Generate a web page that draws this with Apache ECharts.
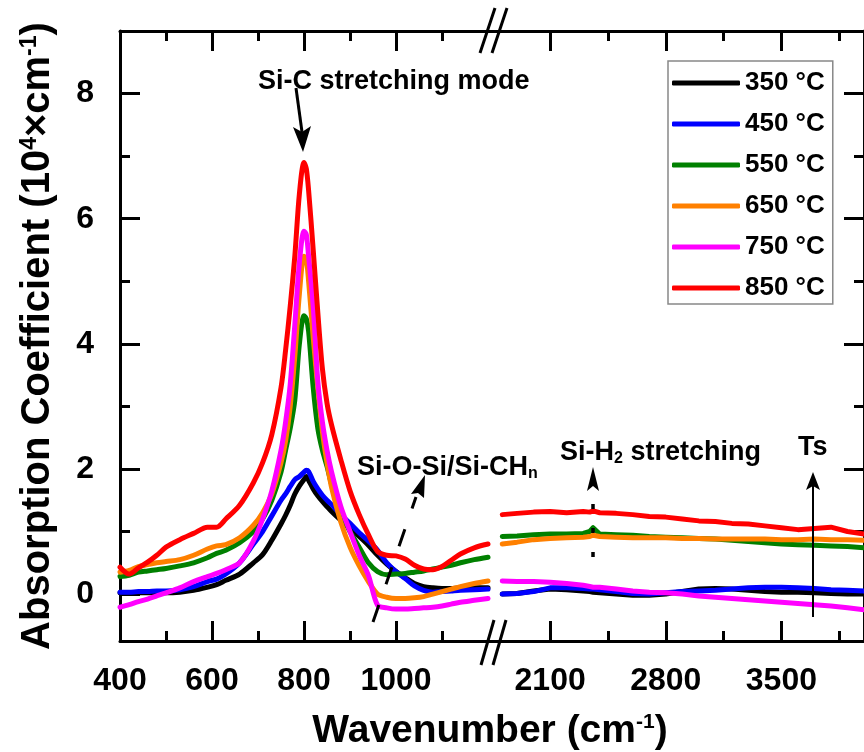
<!DOCTYPE html>
<html>
<head>
<meta charset="utf-8">
<script src="https://cdn.jsdelivr.net/npm/echarts@6/dist/echarts.min.js"></script>
<style>
  html, body { margin: 0; padding: 0; background: #fff; }
  #main { width: 864px; height: 752px; }
</style>
</head>
<body>
<div id="main"></div>
<script>
    // wavenumbers (cm-1) of the left part of the broken axis
    var leftWn = [400, 420, 440, 460, 480, 500, 530, 560, 590, 610, 630, 660, 690, 710, 730, 750, 760, 770, 780, 790,
        800, 805, 810, 820, 830, 840, 850, 860, 880, 900, 920, 940, 960, 980, 1000, 1020, 1040, 1060, 1080, 1100,
        1120, 1140, 1170, 1200];
    // wavenumbers of the right part
    var rightWn = [1810, 1900, 2000, 2100, 2200, 2300, 2340, 2360, 2400, 2500, 2600, 2700, 2800, 2900, 3000, 3100,
        3200, 3300, 3400, 3500, 3600, 3700, 3800, 3900, 4000];

    var names = ['350 °C', '450 °C', '550 °C', '650 °C', '750 °C', '850 °C'];
    var colors = ['#000000', '#0000ff', '#008000', '#ff8000', '#ff00ff', '#ff0000'];

    /* absorption coefficient, 10^4 cm^-1 */
    var t350Left = [0.02, 0.02, 0.02, 0.02, 0.02, 0.02, 0.03, 0.06, 0.11, 0.15, 0.22, 0.32, 0.5, 0.63, 0.86, 1.12, 1.26, 1.42, 1.6, 1.73,
        1.83, 1.88, 1.82, 1.68, 1.57, 1.48, 1.4, 1.32, 1.18, 1.05, 0.92, 0.78, 0.62, 0.48, 0.36, 0.26, 0.17, 0.12, 0.1, 0.09,
        0.09, 0.1, 0.1, 0.1];
    var t450Left = [0.03, 0.03, 0.04, 0.04, 0.05, 0.05, 0.07, 0.12, 0.2, 0.24, 0.32, 0.5, 0.8, 1.0, 1.25, 1.5, 1.6, 1.72, 1.83, 1.88,
        1.95, 1.98, 1.96, 1.8, 1.68, 1.58, 1.5, 1.43, 1.27, 1.13, 0.98, 0.85, 0.7, 0.5, 0.36, 0.25, 0.13, 0.06, 0.03, 0.04,
        0.05, 0.06, 0.07, 0.08];
    var t550Left = [0.28, 0.3, 0.35, 0.37, 0.39, 0.41, 0.45, 0.5, 0.58, 0.65, 0.7, 0.82, 1.0, 1.2, 1.5, 1.95, 2.3, 2.65, 3.1, 4.0,
        4.45, 4.4, 4.2, 3.3, 2.65, 2.3, 2.04, 1.75, 1.3, 1.0, 0.75, 0.5, 0.36, 0.31, 0.32, 0.33, 0.35, 0.37, 0.4, 0.43,
        0.46, 0.5, 0.55, 0.59];
    var t650Left = [0.35, 0.38, 0.44, 0.47, 0.5, 0.52, 0.55, 0.62, 0.72, 0.77, 0.79, 0.9, 1.1, 1.3, 1.6, 2.1, 2.45, 3.0, 3.8, 4.8,
        5.4, 5.35, 5.0, 4.1, 3.3, 2.6, 2.1, 1.7, 1.15, 0.75, 0.45, 0.2, 0.0, -0.05, -0.07, -0.07, -0.06, -0.04, 0.0, 0.04,
        0.08, 0.12, 0.17, 0.21];
    var t750Left = [-0.21, -0.17, -0.12, -0.08, -0.03, 0.02, 0.1, 0.2, 0.28, 0.33, 0.39, 0.5, 0.85, 1.2, 1.65, 2.3, 2.75, 3.35, 4.3, 5.3,
        5.8, 5.75, 5.4, 4.6, 3.4, 2.75, 2.3, 1.95, 1.4, 1.0, 0.62, 0.3, -0.18, -0.22, -0.24, -0.24, -0.23, -0.22, -0.21, -0.19,
        -0.16, -0.13, -0.1, -0.07];
    var t850Left = [0.43, 0.32, 0.42, 0.51, 0.62, 0.75, 0.87, 0.97, 1.07, 1.07, 1.2, 1.42, 1.78, 2.1, 2.55, 3.3, 3.9, 4.6, 5.4, 6.4,
        6.9, 6.8, 6.45, 5.5, 4.5, 3.6, 3.05, 2.7, 2.15, 1.65, 1.27, 0.95, 0.68, 0.62, 0.61, 0.56, 0.46, 0.4, 0.39, 0.44,
        0.54, 0.64, 0.74, 0.8];

    var t350Right = [0.0, 0.01, 0.05, 0.08, 0.07, 0.05, 0.04, 0.03, 0.02, 0.0, -0.02, -0.02, 0.0, 0.04, 0.08, 0.09, 0.08, 0.06, 0.04, 0.03,
        0.03, 0.02, 0.01, 0.0, 0.0];
    var t450Right = [0.0, 0.01, 0.04, 0.1, 0.1, 0.09, 0.08, 0.08, 0.07, 0.04, 0.01, 0.0, 0.02, 0.04, 0.05, 0.06, 0.08, 0.1, 0.11, 0.11,
        0.1, 0.09, 0.07, 0.06, 0.05];
    var t550Right = [0.92, 0.93, 0.95, 0.96, 0.96, 0.97, 1.0, 1.06, 0.96, 0.95, 0.94, 0.92, 0.91, 0.9, 0.89, 0.88, 0.86, 0.84, 0.82, 0.8,
        0.79, 0.78, 0.77, 0.76, 0.74];
    var t650Right = [0.8, 0.83, 0.87, 0.89, 0.9, 0.91, 0.92, 0.94, 0.92, 0.91, 0.9, 0.9, 0.9, 0.89, 0.89, 0.88, 0.88, 0.88, 0.88, 0.87,
        0.87, 0.88, 0.87, 0.87, 0.86];
    var t750Right = [0.21, 0.2, 0.2, 0.19, 0.17, 0.14, 0.12, 0.11, 0.11, 0.08, 0.05, 0.03, 0.02, 0.0, -0.03, -0.05, -0.07, -0.09, -0.11, -0.13,
        -0.15, -0.17, -0.19, -0.22, -0.25];
    var t850Right = [1.27, 1.29, 1.31, 1.32, 1.3, 1.32, 1.31, 1.33, 1.3, 1.29, 1.27, 1.24, 1.23, 1.2, 1.17, 1.16, 1.13, 1.12, 1.09, 1.06,
        1.03, 1.05, 1.07, 1.0, 0.96];

    var leftVals = [t350Left, t450Left, t550Left, t650Left, t750Left, t850Left];
    var rightVals = [t350Right, t450Right, t550Right, t650Right, t750Right, t850Right];

    // tick positions
    var yMajor = [0, 2, 4, 6, 8];
    var yMinor = [1, 3, 5, 7];
    var leftMajor = [400, 600, 800, 1000];
    var leftMinor = [500, 700, 900, 1100];
    var rightMajor = [2100, 2800, 3500];
    var rightMinor = [2450, 3150, 3850];

    var FONT = 'Liberation Sans';
    var chart = echarts.init(document.getElementById('main'));

    function plain(v) { return String(v); }

    function xAxisOf(grid, pos, min, max, ticks, isMajor, labels) {
        return {
            type: 'value', gridIndex: grid, position: pos, min: min, max: max,
            axisLine: {show: isMajor, onZero: false, lineStyle: {color: '#000', width: 3}},
            axisTick: {show: true, inside: true, length: isMajor ? 20 : 10, customValues: ticks,
                lineStyle: {color: '#000', width: 3}},
            axisLabel: labels ? {show: true, customValues: labels, margin: 24, color: '#000', formatter: plain,
                fontSize: 32, fontWeight: 'bold', fontFamily: FONT} : {show: false},
            splitLine: {show: false}
        };
    }
    function yAxisOf(grid, pos, ticks, isMajor, labels) {
        return {
            type: 'value', gridIndex: grid, position: pos, min: -0.75, max: 9,
            axisLine: {show: isMajor, onZero: false, lineStyle: {color: '#000', width: 3}},
            axisTick: {show: true, inside: true, length: isMajor ? 20 : 10, customValues: ticks,
                lineStyle: {color: '#000', width: 3}},
            axisLabel: labels ? {show: true, customValues: labels, margin: 26, color: '#000', formatter: plain,
                fontSize: 32, fontWeight: 'bold', fontFamily: FONT} : {show: false},
            splitLine: {show: false}
        };
    }

    var xAxes = [
        xAxisOf(0, 'bottom', 400, 1213, leftMajor, true, leftMajor),
        xAxisOf(0, 'bottom', 400, 1213, leftMinor, false, null),
        xAxisOf(0, 'top', 400, 1213, leftMajor, true, null),
        xAxisOf(0, 'top', 400, 1213, leftMinor, false, null),
        xAxisOf(1, 'bottom', 1760, 4000, rightMajor, true, rightMajor),
        xAxisOf(1, 'bottom', 1760, 4000, rightMinor, false, null),
        xAxisOf(1, 'top', 1760, 4000, rightMajor, true, null),
        xAxisOf(1, 'top', 1760, 4000, rightMinor, false, null)
    ];
    var yAxes = [
        yAxisOf(0, 'left', yMajor, true, yMajor),
        yAxisOf(0, 'left', yMinor, false, null),
        yAxisOf(1, 'right', yMajor, true, null),
        yAxisOf(1, 'right', yMinor, false, null)
    ];
    yAxes[0].name = 'Absorption Coefficient (10{sup|4}×cm{sup|-1})';
    yAxes[0].nameLocation = 'middle';
    yAxes[0].nameRotate = 90;
    yAxes[0].nameGap = 62;
    yAxes[0].nameTextStyle = {
        fontSize: 40, fontWeight: 'bold', fontFamily: FONT, color: '#000',
        rich: {sup: {fontSize: 23, fontWeight: 'bold', fontFamily: FONT, color: '#000', verticalAlign: 'top'}}
    };

    var series = [];
    function pairs(xs, ys) {
        return xs.map(function (x, i) { return [x, ys[i]]; });
    }
    for (var i = 0; i < names.length; i++) {
        series.push({
            name: names[i], type: 'line', xAxisIndex: 0, yAxisIndex: 0,
            data: pairs(leftWn, leftVals[i]), symbol: 'none', smooth: 0.3,
            lineStyle: {color: colors[i], width: 5, cap: 'round', join: 'round'},
            itemStyle: {color: colors[i]}
        });
    }
    for (var j = 0; j < names.length; j++) {
        series.push({
            name: names[j], type: 'line', xAxisIndex: 4, yAxisIndex: 2,
            data: pairs(rightWn, rightVals[j]), symbol: 'none', smooth: false,
            lineStyle: {color: colors[j], width: 5, cap: 'round', join: 'round'},
            itemStyle: {color: colors[j]}
        });
    }

    var txt = {fill: '#000', fontWeight: 'bold', fontFamily: FONT};
    function label(x, y, text, size, align, rich) {
        return {type: 'text', x: x, y: y, z: 50, style: Object.assign({}, txt, {
            text: text, fontSize: size, align: align, verticalAlign: 'middle',
            textAlign: align, textVerticalAlign: 'middle', rich: rich || {}
        })};
    }
    function seg(x1, y1, x2, y2, w, dash) {
        return {type: 'line', z: 50, shape: {x1: x1, y1: y1, x2: x2, y2: y2},
            style: {stroke: '#000', lineWidth: w, lineDash: dash || null}};
    }
    function head(pts) {
        return {type: 'polygon', z: 50, shape: {points: pts}, style: {fill: '#000'}};
    }
    var supRich = {sup: {fontSize: 21, fontWeight: 'bold', fontFamily: FONT, fill: '#000', verticalAlign: 'top'}};
    var subRich = {sub: {fontSize: 16, fontWeight: 'bold', fontFamily: FONT, fill: '#000', verticalAlign: 'bottom', padding: [9, 0, 0, 0]}};

    chart.setOption({
        backgroundColor: '#fff',
        animation: false,
        grid: [
            {left: 120, top: 31, width: 374, height: 610},
            {left: 494, top: 31, width: 375, height: 610}
        ],
        legend: {
            orient: 'vertical', left: 668, top: 61,
            padding: [7, 8, 1, 4], itemWidth: 68, itemHeight: 5, itemGap: 11,
            icon: 'roundRect',
            borderColor: '#888', borderWidth: 1.5, borderRadius: 0,
            textStyle: {fontSize: 26, fontWeight: 'bold', fontFamily: FONT, color: '#000', lineHeight: 30},
            data: names
        },
        xAxis: xAxes,
        yAxis: yAxes,
        series: series,
        graphic: [
            // axis break marks
            seg(480, 53, 495, 8, 3), seg(492, 53, 507, 8, 3),
            seg(481, 665, 494, 620, 3), seg(493, 665, 506, 620, 3),
            // x axis title
            label(490, 731, 'Wavenumber (cm{sup|-1})', 39, 'center', supRich),
            // annotations
            label(258, 82, 'Si-C stretching mode', 27, 'left'),
            seg(296, 88, 302, 132, 3),
            head([[303, 152], [311, 126], [302, 132], [293, 127]]),
            label(357, 468, 'Si-O-Si/Si-CH{sub|n}', 27, 'left', subRich),
            seg(373, 622, 416, 497, 3, [18, 22]),
            head([[425, 475], [424, 498], [418, 493], [411, 494]]),
            label(560, 453, 'Si-H{sub|2} stretching', 27, 'left', subRich),
            seg(593, 557, 593, 488, 3.5, [5, 19]),
            head([[593, 467], [599, 491], [593, 486], [587, 491]]),
            label(798, 448, 'Ts', 27, 'left'),
            seg(813, 617, 813, 482, 2),
            head([[813, 472], [820, 490], [813, 486], [806, 490]])
        ]
    });
</script>
</body>
</html>
